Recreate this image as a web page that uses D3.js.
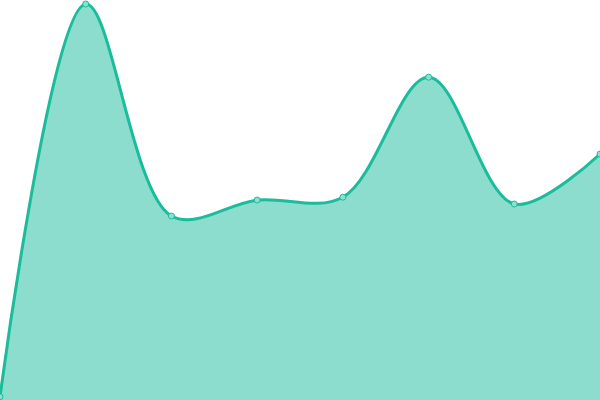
<!DOCTYPE html>
<html>
<head>
<meta charset="utf-8">
<script src="https://cdn.jsdelivr.net/npm/d3@7"></script>
<style>
  html, body { margin: 0; padding: 0; background: #fff; overflow: hidden; }
  svg { display: block; }
</style>
</head>
<body>
<svg id="chart" width="600" height="400"></svg>
<script>
// values (0-100 scale)
const categories = ["A", "B", "C", "D", "E", "F", "G", "H"];
const values = [0.8, 99, 46, 50, 50.7, 80.7, 49, 61.5];

const W = 600, H = 400;

const x = d3.scalePoint().domain(categories).range([0, W]);
const y = d3.scaleLinear().domain([0, 100]).range([H, 0]);

const data = categories.map((c, i) => ({ cat: c, val: values[i] }));
const svg = d3.select("#chart");

const curve = d3.curveCatmullRom.alpha(0.5);

svg.append("path").datum(data)
  .attr("d", d3.area()
    .x(d => x(d.cat)).y0(H).y1(d => y(d.val))
    .curve(curve))
  .attr("fill", "#1abc9c")
  .attr("fill-opacity", 0.5);

svg.append("path").datum(data)
  .attr("d", d3.line()
    .x(d => x(d.cat)).y(d => y(d.val))
    .curve(curve))
  .attr("fill", "none")
  .attr("stroke", "#1abc9c")
  .attr("stroke-width", 3);

svg.append("g").selectAll("circle")
  .data(data).join("circle")
  .attr("cx", d => x(d.cat))
  .attr("cy", d => y(d.val))
  .attr("r", 3)
  .attr("fill", "#8de0cf")
  .attr("stroke", "#1abc9c")
  .attr("stroke-width", 1);
</script>
</body>
</html>
